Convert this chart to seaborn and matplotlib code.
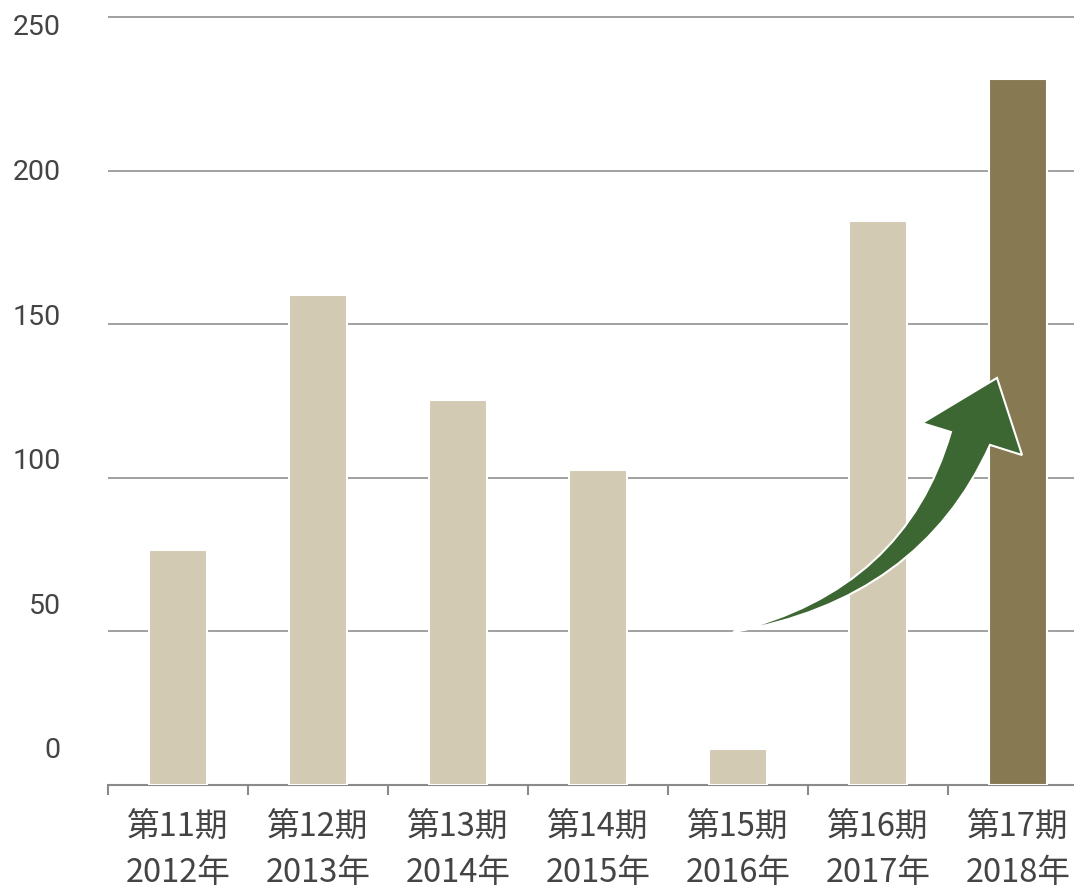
import matplotlib
matplotlib.use("Agg")
import matplotlib.pyplot as plt
import matplotlib.transforms as mtransforms
from matplotlib.path import Path
from matplotlib.patches import PathPatch
import seaborn as sns
import pandas as pd

periods = ["第11期", "第12期", "第13期", "第14期", "第15期", "第16期", "第17期"]
years = ["2012年", "2013年", "2014年", "2015年", "2016年", "2017年", "2018年"]
values = [76.5, 159.5, 125.3, 102.5, 11.7, 183.6, 229.8]
yticks = [0, 50, 100, 150, 200, 250]

sns.set_theme(style="white")
plt.rcParams['font.family'] = ['Noto Sans CJK JP', 'DejaVu Sans']

labels = [f"{p}\n{y}" for p, y in zip(periods, years)]
df = pd.DataFrame({"label": labels, "value": values})
palette = ["#d3cab3"] * 6 + ["#877a52"]

fig = plt.figure(figsize=(10.74, 8.9), dpi=100)
ax = fig.add_axes([108 / 1074, 105 / 890, 1 - 108 / 1074, (785 - 10.8) / 890])

sns.barplot(data=df, x="label", y="value", hue="label", palette=palette,
            legend=False, width=0.41, edgecolor="white", linewidth=1.5,
            saturation=1, ax=ax, zorder=3)

ax.set_xlim(-0.5, 6.4)
ax.set_ylim(0, 252)
ax.set_xlabel("")
ax.set_ylabel("")

# gridlines
ax.set_yticks(yticks)
ax.yaxis.grid(True, color="#999999", linewidth=1.3, zorder=0)
ax.set_axisbelow(True)
for s in ["top", "right", "left"]:
    ax.spines[s].set_visible(False)
ax.spines["bottom"].set_color("#8a8a8a")
ax.spines["bottom"].set_linewidth(1.5)

# y tick labels (offset like the original)
ax.tick_params(axis="y", length=0, pad=34, labelsize=20.5, labelcolor="#444444")
for lab in ax.get_yticklabels():
    lab.set_family(["Roboto", "DejaVu Sans"])
for v, lab in zip(yticks, ax.get_yticklabels()):
    dy = (37 - 0.18 * v) / 100.0
    lab.set_transform(lab.get_transform() +
                      mtransforms.ScaledTranslation(0, dy, fig.dpi_scale_trans))

# x ticks: labels at centers, tick marks at boundaries
ax.tick_params(axis="x", which="major", length=0, pad=19, labelsize=23.5,
               labelcolor="#444444")
ax.set_xticks(range(len(labels)))
ax.set_xticklabels(labels, linespacing=1.55)
ax.set_xticks([i - 0.5 for i in range(len(labels))], minor=True)
ax.tick_params(axis="x", which="minor", length=7, width=1.5, color="#8a8a8a",
               bottom=True)

# curved arrow decoration
verts = [
    (3.964, 49.8),
    (5.193, 63.5), (5.521, 114.9),
    (5.314, 117.8),
    (5.850, 132.5),
    (6.029, 107.4),
    (5.800, 110.7),
    (5.300, 60.2), (3.964, 49.8),
    (3.964, 49.8),
]
codes = [Path.MOVETO, Path.CURVE3, Path.CURVE3, Path.LINETO, Path.LINETO,
         Path.LINETO, Path.LINETO, Path.CURVE3, Path.CURVE3, Path.CLOSEPOLY]
arrow = PathPatch(Path(verts, codes), facecolor="#3c6632", edgecolor="white",
                  linewidth=1.5, zorder=5, joinstyle="miter")
ax.add_patch(arrow)

fig.savefig("out.png", dpi=100)
